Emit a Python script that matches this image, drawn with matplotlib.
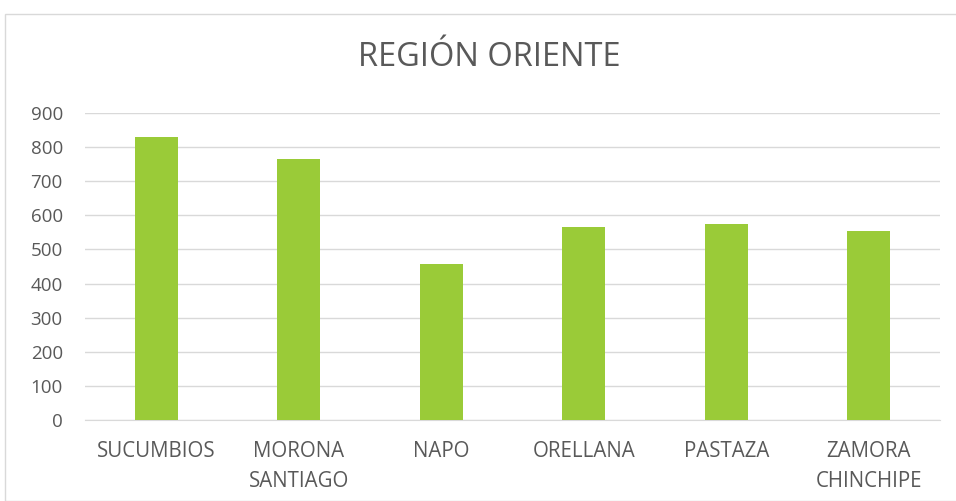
import matplotlib
matplotlib.use("Agg")
import matplotlib.pyplot as plt
from matplotlib.patches import Rectangle

categories = ["SUCUMBIOS", "MORONA\nSANTIAGO", "NAPO", "ORELLANA", "PASTAZA", "ZAMORA\nCHINCHIPE"]
values = [831, 765, 457, 566, 575, 553]
yticks = [0, 100, 200, 300, 400, 500, 600, 700, 800, 900]

plt.rcParams['font.family'] = ['Open Sans', 'DejaVu Sans']
fig = plt.figure(figsize=(9.56, 5.01), dpi=100)
fig.patches.append(Rectangle((5/956, 0), 1.0, (501-14)/501, transform=fig.transFigure,
                             fill=False, edgecolor='#d9d9d9', linewidth=1))
ax = fig.add_axes([85/956, (501-420)/501, (940-85)/956, (420-113)/501])
x = list(range(len(categories)))
ax.bar(x, values, width=0.3, color='#9acb38', zorder=3)
ax.set_xlim(-0.5, len(categories) - 0.5)
ax.set_ylim(0, 900)
ax.set_yticks(yticks)
ax.set_xticks(x)
ax.set_xticklabels(categories, linespacing=1.6)
ax.tick_params(axis='y', length=0, labelsize=13.5, colors='#595959', pad=16)
ax.tick_params(axis='x', length=0, labelsize=14.8, colors='#595959', pad=15)
for lab in ax.get_xticklabels():
    lab.set_verticalalignment('top')
ax.grid(axis='y', color='#d9d9d9', linewidth=1, zorder=0)
for s in ['top', 'right', 'left']:
    ax.spines[s].set_visible(False)
ax.spines['bottom'].set_color('#d9d9d9')
fig.text(489/956, (501-58)/501, "REGIÓN ORIENTE", ha='center', va='center',
         fontsize=23.5, color='#595959')
fig.savefig("out.png", dpi=100)
